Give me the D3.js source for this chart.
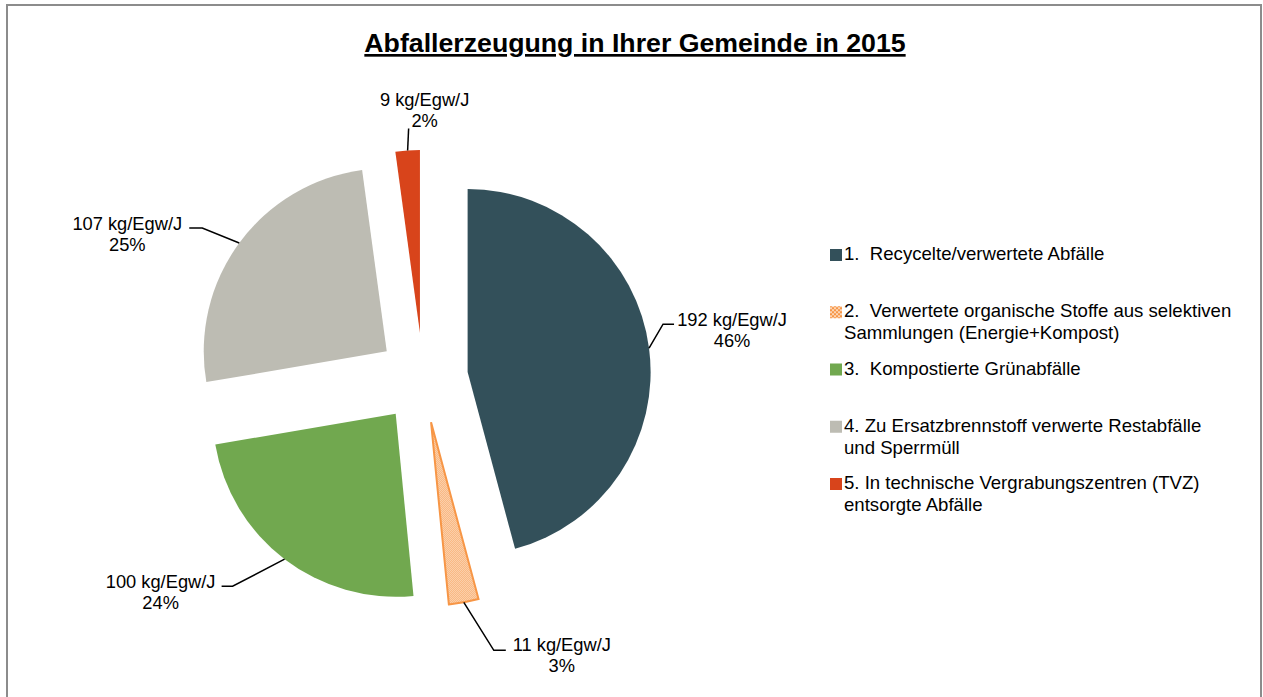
<!DOCTYPE html>
<html>
<head>
<meta charset="utf-8">
<script src="https://cdn.jsdelivr.net/npm/d3@7"></script>
<style>
  html, body { margin: 0; padding: 0; background: #fff; }
  svg { display: block; font-family: "Liberation Sans", Arial, sans-serif; }
</style>
</head>
<body>
<svg id="chart"></svg>
<script>
const width = 1263;
const height = 697;

// Daten
const titleText = "Abfallerzeugung in Ihrer Gemeinde in 2015";
const legendLines = [
    ["1.  Recycelte/verwertete Abfälle"],
    ["2.  Verwertete organische Stoffe aus selektiven", "Sammlungen (Energie+Kompost)"],
    ["3.  Kompostierte Grünabfälle"],
    ["4. Zu Ersatzbrennstoff verwerte Restabfälle", "und Sperrmüll"],
    ["5. In technische Vergrabungszentren (TVZ)", "entsorgte Abfälle"]
];
const values = [192, 11, 100, 107, 9];          // kg/Egw/J
const shares = ["46%", "3%", "24%", "25%", "2%"];
const colors = ["#33505a", "url(#checker)", "#71a84f", "#bdbcb3", "#d8441b"];

// Layout der Beschriftungen (Knick relativ zum Ankerpunkt, Text relativ zum Knick)
const labelLayout = [
    { ex: 14, ey: -24, hook: 11, tx: 69, ty: 2 },
    { ex: 30, ey: 48, hook: 12, tx: 68, ty: 1 },
    { ex: -52, ey: 27, hook: -11, tx: -72, ty: 2 },
    { ex: -37, ey: -15, hook: -13, tx: -75, ty: 2 },
    { ex: 1, ey: -22, hook: 0, tx: 16, ty: -23 }
];

const cx = 423, cy = 378;
const radius = 183;
const explode = 45;

const svg = d3.select("#chart")
    .attr("width", width)
    .attr("height", height);

// Schachbrett-Muster für Serie 2
const defs = svg.append("defs");
const pat = defs.append("pattern")
    .attr("id", "checker")
    .attr("patternUnits", "userSpaceOnUse")
    .attr("width", 2)
    .attr("height", 2);
pat.append("rect").attr("width", 2).attr("height", 2).attr("fill", "#fde0c6");
pat.append("rect").attr("width", 1).attr("height", 1).attr("fill", "#f7a868");
pat.append("rect").attr("x", 1).attr("y", 1).attr("width", 1).attr("height", 1).attr("fill", "#f7a868");

const patBig = defs.append("pattern")
    .attr("id", "checkerBig")
    .attr("patternUnits", "userSpaceOnUse")
    .attr("width", 4)
    .attr("height", 4);
patBig.append("rect").attr("width", 4).attr("height", 4).attr("fill", "#fcd6b6");
patBig.append("rect").attr("width", 2).attr("height", 2).attr("fill", "#f79646");
patBig.append("rect").attr("x", 2).attr("y", 2).attr("width", 2).attr("height", 2).attr("fill", "#f79646");

// Rahmen
svg.append("rect")
    .attr("x", 7)
    .attr("y", 5)
    .attr("width", 1254)
    .attr("height", 710)
    .attr("fill", "none")
    .attr("stroke", "#8c8c8c")
    .attr("stroke-width", 2);

// Titel
svg.append("text")
    .attr("x", 635)
    .attr("y", 52)
    .attr("text-anchor", "middle")
    .style("font-size", "26.7px")
    .style("font-weight", "bold")
    .style("text-decoration", "underline")
    .text(titleText);

// Kreisdiagramm
const pie = d3.pie().sort(null).value(d => d);
const arcs = pie(values);
const arc = d3.arc().innerRadius(0).outerRadius(radius);

const g = svg.append("g").attr("transform", `translate(${cx},${cy})`);

const slices = g.selectAll("g.slice")
    .data(arcs)
    .join("g")
    .attr("class", "slice")
    .attr("transform", d => {
        const a = (d.startAngle + d.endAngle) / 2;
        return `translate(${explode * Math.sin(a)},${-explode * Math.cos(a)})`;
    });

slices.append("path")
    .attr("d", arc)
    .attr("fill", (d, i) => colors[i])
    .attr("stroke", (d, i) => i === 1 ? "#f79646" : "none")
    .attr("stroke-width", 2)
    .attr("stroke-linejoin", "miter");

// Beschriftungen mit Führungslinien
slices.each(function(d, i) {
    const a = (d.startAngle + d.endAngle) / 2;
    const ax = radius * Math.sin(a);
    const ay = -radius * Math.cos(a);
    const L = labelLayout[i];
    const ex = ax + L.ex, ey = ay + L.ey;
    const sel = d3.select(this);

    sel.append("path")
        .attr("d", d3.line()([[ax, ay], [ex, ey], [ex + L.hook, ey]]))
        .attr("fill", "none")
        .attr("stroke", "#000")
        .attr("stroke-width", 1.5);

    const t = sel.append("text")
        .attr("text-anchor", "middle")
        .style("font-size", "18.3px")
        .attr("fill", "#000");
    t.append("tspan")
        .attr("x", ex + L.tx)
        .attr("y", ey + L.ty)
        .text(`${values[i]} kg/Egw/J`);
    t.append("tspan")
        .attr("x", ex + L.tx)
        .attr("y", ey + L.ty + 21)
        .text(shares[i]);
});

// Legende
const legendY = d3.scaleLinear().domain([0, legendLines.length - 1]).range([260, 489]);

const legend = svg.append("g").attr("class", "legend");

const items = legend.selectAll("g")
    .data(legendLines)
    .join("g")
    .attr("transform", (d, i) => `translate(830,${legendY(i)})`);

items.append("rect")
    .attr("x", 0)
    .attr("y", -11)
    .attr("width", 12)
    .attr("height", 12)
    .attr("fill", (d, i) => i === 1 ? "url(#checkerBig)" : colors[i]);

items.append("text")
    .attr("xml:space", "preserve")
    .style("white-space", "pre")
    .style("font-size", "18.6px")
    .attr("fill", "#000")
    .selectAll("tspan")
    .data(d => d)
    .join("tspan")
    .attr("x", 14)
    .attr("y", (d, j) => j * 22)
    .text(d => d);
</script>
</body>
</html>
